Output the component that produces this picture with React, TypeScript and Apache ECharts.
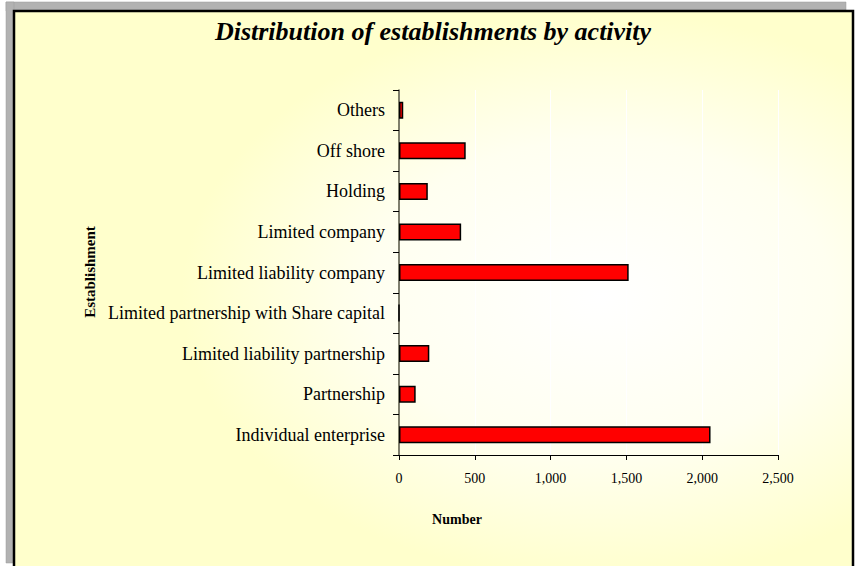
import React, { useEffect, useRef } from "react";
import * as echarts from "echarts";

const categories = [
  "Individual enterprise",
  "Partnership",
  "Limited liability partnership",
  "Limited partnership with Share capital",
  "Limited liability company",
  "Limited company",
  "Holding",
  "Off shore",
  "Others",
];
const values = [2055, 110, 200, 0, 1515, 410, 190, 440, 28];
const xTicks = { min: 0, max: 2500, interval: 500 };
const titleText = "Distribution of establishments by activity";
const xAxisTitle = "Number";
const yAxisTitle = "Establishment";

export default function App() {
  const ref = useRef<HTMLDivElement>(null);
  useEffect(() => {
    if (!ref.current) return;
    const chart = echarts.init(ref.current, null, { renderer: "svg" });
    const serif = "'Liberation Serif', 'Times New Roman', serif";
    chart.setOption({
      animation: false,
      backgroundColor: "#ffffff",
      textStyle: { fontFamily: serif },
      graphic: [
        { type: "rect", z: -10, silent: true, shape: { x: 6, y: 2, width: 840, height: 9 }, style: { fill: "#b2b2b2", stroke: "#9a9a9a", lineWidth: 0.5 } },
        { type: "rect", z: -10, silent: true, shape: { x: 6, y: 2, width: 8, height: 561 }, style: { fill: "#b2b2b2", stroke: "#9a9a9a", lineWidth: 0.5 } },
        {
          type: "rect",
          z: -9,
          silent: true,
          shape: { x: 14, y: 11, width: 839, height: 570 },
          style: {
            fill: {
              type: "radial",
              x: 0.7,
              y: 0.5,
              r: 0.5,
              colorStops: [
                { offset: 0, color: "#ffffff" },
                { offset: 0.55, color: "#fffff0" },
                { offset: 1, color: "#ffffcc" },
              ],
            },
            stroke: "#000000",
            lineWidth: 2.5,
          },
        },
        {
          type: "text",
          x: 433,
          y: 31,
          style: {
            text: titleText,
            fontFamily: serif,
            fontSize: 26,
            fontWeight: "bold",
            fontStyle: "italic",
            fill: "#000",
            align: "center",
            verticalAlign: "middle",
          },
        },
        {
          type: "text",
          x: 457,
          y: 519,
          style: {
            text: xAxisTitle,
            fontFamily: serif,
            fontSize: 14,
            fontWeight: "bold",
            fill: "#000",
            align: "center",
            verticalAlign: "middle",
          },
        },
        {
          type: "text",
          x: 90,
          y: 272,
          rotation: Math.PI / 2,
          style: {
            text: yAxisTitle,
            fontFamily: serif,
            fontSize: 15,
            fontWeight: "bold",
            fill: "#000",
            align: "center",
            verticalAlign: "middle",
          },
        },
      ],
      grid: { left: 399, right: 77, top: 90, bottom: 111, containLabel: false },
      xAxis: {
        type: "value",
        min: xTicks.min,
        max: xTicks.max,
        interval: xTicks.interval,
        axisLine: { show: true, lineStyle: { color: "#000", width: 1 } },
        axisTick: { show: true, length: 5, lineStyle: { color: "#000" } },
        axisLabel: {
          margin: 16,
          fontSize: 14,
          color: "#000",
          fontFamily: serif,
          formatter: (v: number) => v.toLocaleString("en-US"),
        },
        splitLine: { show: true, lineStyle: { color: "#ffffff", width: 1 } },
      },
      yAxis: {
        type: "category",
        data: categories,
        axisLine: { show: true, lineStyle: { color: "#555540", width: 1.5 } },
        axisTick: { show: true, inside: false, length: 6, lineStyle: { color: "#000" } },
        axisLabel: { margin: 14, fontSize: 18, color: "#000", fontFamily: serif },
        splitLine: { show: false },
      },
      series: [
        {
          type: "bar",
          data: values,
          barWidth: 17,
          itemStyle: { color: "#ff0000", borderColor: "#000000", borderWidth: 1.5 },
        },
      ],
    });
    return () => chart.dispose();
  }, []);
  return (
    <div
      ref={ref}
      style={{ position: "fixed", left: 0, top: 0, width: 855, height: 566 }}
    />
  );
}
